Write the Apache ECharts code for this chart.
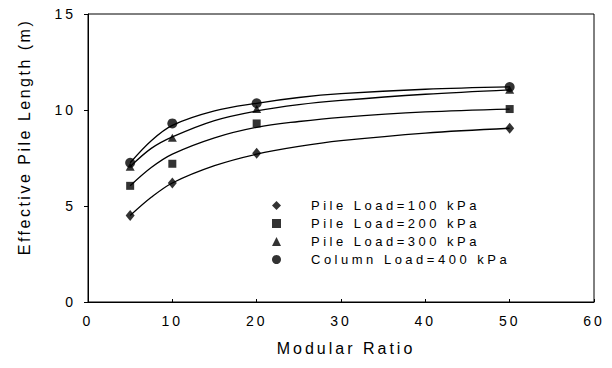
<!DOCTYPE html>
<html>
<head>
<meta charset="utf-8">
<script src="https://cdn.jsdelivr.net/npm/echarts@6/dist/echarts.min.js"></script>
<style>
html,body{margin:0;padding:0;background:#fff;}
#c{width:612px;height:368px;}
svg text{letter-spacing:3px;}
</style>
</head>
<body>
<div id="c"></div>
<script>
// Measured points
var xs = [5, 10, 20, 50];
var load100 = [4.5, 6.2, 7.75, 9.05];
var load200 = [6.05, 7.2, 9.3, 10.05];
var load300 = [7.05, 8.55, 10.05, 11.05];
var load400 = [7.25, 9.3, 10.35, 11.2];

// Fitted curves
var curveX = [5, 7.5, 10, 15, 20, 25, 30, 40, 50];
var curve100 = [4.5, 5.45, 6.2, 7.1, 7.7, 8.1, 8.4, 8.8, 9.05];
var curve200 = [6.05, 7.0, 7.7, 8.55, 9.1, 9.4, 9.62, 9.9, 10.05];
var curve300 = [7.05, 8.0, 8.6, 9.45, 9.95, 10.28, 10.5, 10.82, 11.05];
var curve400 = [7.25, 8.4, 9.2, 9.95, 10.35, 10.65, 10.85, 11.08, 11.2];

var names = ['Pile Load=100 kPa', 'Pile Load=200 kPa', 'Pile Load=300 kPa', 'Column Load=400 kPa'];
var symbols = ['diamond', 'rect', 'triangle', 'circle'];
var symSizes = [[9, 11], [8, 8], [9, 8], [10, 10]];
var pts = [load100, load200, load300, load400];
var curves = [curve100, curve200, curve300, curve400];

var yTicks = [0, 5, 10, 15];
var xTicks = [0, 10, 20, 30, 40, 50, 60];
var xName = 'Modular Ratio';
var yName = 'Effective Pile Length (m)';

function pairs(xa, ya) { return xa.map(function (x, i) { return [x, ya[i]]; }); }

var series = [];
curves.forEach(function (c, i) {
  series.push({
    type: 'line', name: 'fit' + i, data: pairs(curveX, c), smooth: 0.35,
    showSymbol: false, symbol: 'none', silent: true,
    lineStyle: { color: '#000', width: 1.3 }, z: 2
  });
});
pts.forEach(function (p, i) {
  series.push({
    type: 'scatter', name: names[i], data: pairs(xs, p),
    symbol: symbols[i], symbolSize: symSizes[i],
    itemStyle: { color: '#000' }, z: 3
  });
});

var chart = echarts.init(document.getElementById('c'), null, { renderer: 'svg' });
chart.setOption({
  animation: false,
  backgroundColor: '#fff',
  textStyle: { fontFamily: 'Liberation Sans', color: '#000' },
  grid: { left: 88, right: 18, top: 14, bottom: 66, show: true, borderColor: '#000', borderWidth: 1 },
  legend: {
    data: names, orient: 'vertical', left: 267, top: 194,
    itemWidth: 9, itemHeight: 9, itemGap: 5,
    textStyle: { fontSize: 13, color: '#000', fontFamily: 'Liberation Sans', padding: [0, 0, 0, 25] }
  },
  xAxis: {
    type: 'value', min: 0, max: 60, interval: 10,
    name: xName, nameLocation: 'middle', nameGap: 38,
    nameTextStyle: { fontSize: 16, color: '#000', fontFamily: 'Liberation Sans', padding: [0, 0, 0, 10] },
    axisLine: { lineStyle: { color: '#000', width: 1 } },
    axisTick: { inside: true, length: 3, lineStyle: { color: '#000' } },
    axisLabel: { fontSize: 14, color: '#000', margin: 12,
      formatter: function (v) { return xTicks.indexOf(v) >= 0 ? String(v) : ''; } },
    splitLine: { show: false }
  },
  yAxis: {
    type: 'value', min: 0, max: 15, interval: 5,
    name: yName, nameLocation: 'middle', nameGap: 56, nameRotate: 90,
    nameTextStyle: { fontSize: 16, color: '#000', fontFamily: 'Liberation Sans', padding: [0, 0, 0, 42] },
    axisLine: { show: true, lineStyle: { color: '#000', width: 1 } },
    axisTick: { show: true, inside: false, length: 4, lineStyle: { color: '#000' } },
    axisLabel: { fontSize: 14, color: '#000', margin: 12,
      formatter: function (v) { return yTicks.indexOf(v) >= 0 ? String(v) : ''; } },
    splitLine: { show: false }
  },
  series: series
});

function spacing() {
  var texts = document.querySelectorAll('#c svg text');
  texts.forEach(function (t) {
    var s = t.textContent;
    if (s === yName) t.style.letterSpacing = '2.5px';
    else if (names.indexOf(s) >= 0) t.style.letterSpacing = '3.5px';
  });
}
spacing();
chart.on('finished', spacing);
</script>
</body>
</html>
